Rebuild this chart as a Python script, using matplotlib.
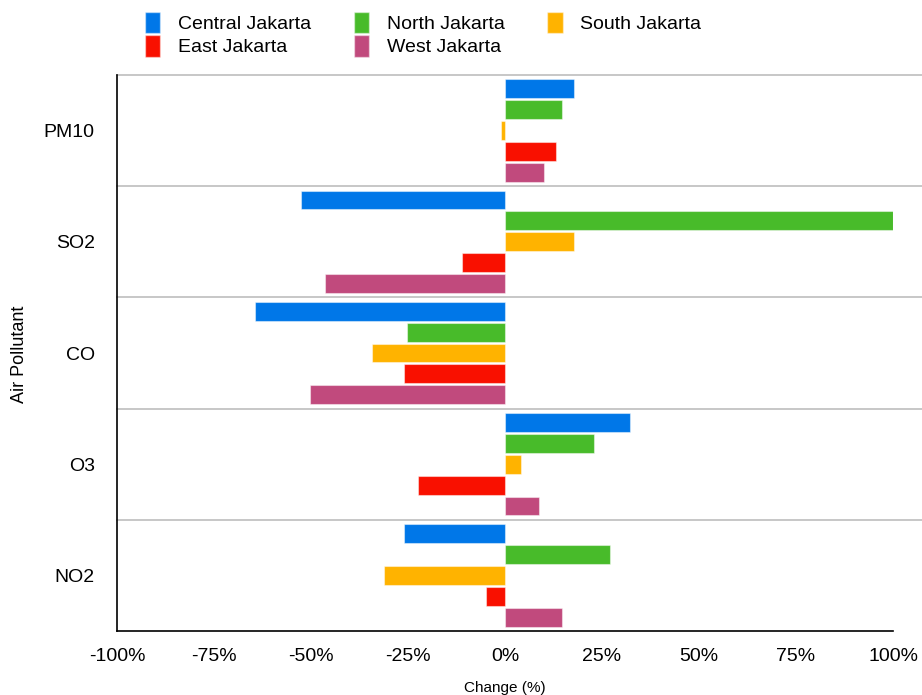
import matplotlib
matplotlib.use("Agg")
import matplotlib.pyplot as plt
from matplotlib.patches import Patch
import numpy as np

plt.rcParams['font.family'] = ['Liberation Sans', 'DejaVu Sans']

pollutants = ["PM10", "SO2", "CO", "O3", "NO2"]
regions = ["Central Jakarta", "North Jakarta", "South Jakarta", "East Jakarta", "West Jakarta"]
colors = ["#0077E8", "#48BB2A", "#FFB300", "#F91000", "#C14A7D"]

central = [17.9, -52.5, -64.5, 32.1, -26.1]
north = [14.8, 100.0, -25.2, 23.0, 27.0]
south = [-1.1, 17.9, -34.4, 4.1, -31.2]
east = [13.1, -11.1, -26.1, -22.3, -5.0]
west = [10.1, -46.4, -50.3, 8.8, 14.8]
series = [central, north, south, east, west]

xticks = [-100, -75, -50, -25, 0, 25, 50, 75, 100]
xticklabels = ["-100%", "-75%", "-50%", "-25%", "0%", "25%", "50%", "75%", "100%"]

fig = plt.figure(figsize=(9.22, 6.95), dpi=100)
ax = fig.add_axes([117/922, 1 - 631/695, (893-117)/922, (631-75)/695])

n = len(regions)
slot = 0.94 / n
bh = 0.17
ypos = np.arange(len(pollutants))
for j, (vals, c) in enumerate(zip(series, colors)):
    offs = -0.47 + slot * (j + 0.5)
    ax.barh(ypos + offs, vals, height=bh, color=c, edgecolor=(1, 1, 1, 0.45), linewidth=0.8)

ax.set_ylim(len(pollutants) - 0.5, -0.5)
ax.set_xlim(-100, 100)
for b in np.arange(-0.5, len(pollutants) - 0.5, 1.0):
    ax.plot([0, 1.037], [b, b], transform=ax.get_yaxis_transform(), color="#BDBDBD",
            linewidth=1.2, clip_on=False, zorder=0)

ax.set_yticks(ypos)
ax.set_yticklabels(pollutants, fontsize=14)
ax.set_xticks(xticks)
ax.set_xticklabels(xticklabels, fontsize=14)
ax.tick_params(axis='y', length=0, pad=16)
ax.tick_params(axis='x', length=0, pad=12)
for s in ["top", "right"]:
    ax.spines[s].set_visible(False)
for s in ["left", "bottom"]:
    ax.spines[s].set_color("black")
    ax.spines[s].set_linewidth(1.2)

ax.set_xlabel("Change (%)", fontsize=11, labelpad=12)
fig.text(20/922, 1 - 354/695, "Air Pollutant", rotation=90, fontsize=13, ha="center", va="center")

handles = [Patch(facecolor=c, edgecolor=(1, 1, 1, 0.45)) for c in colors]
order = [0, 3, 1, 4, 2]
fig.legend([handles[i] for i in order], [regions[i] for i in order], ncol=3,
           loc="upper left", bbox_to_anchor=(137/922, 1 - 4/695), frameon=False,
           fontsize=14, handlelength=0.8, handleheight=1.3, handletextpad=0.9,
           columnspacing=2.2, labelspacing=0.12, borderaxespad=0)

fig.savefig("out.png", dpi=100)
